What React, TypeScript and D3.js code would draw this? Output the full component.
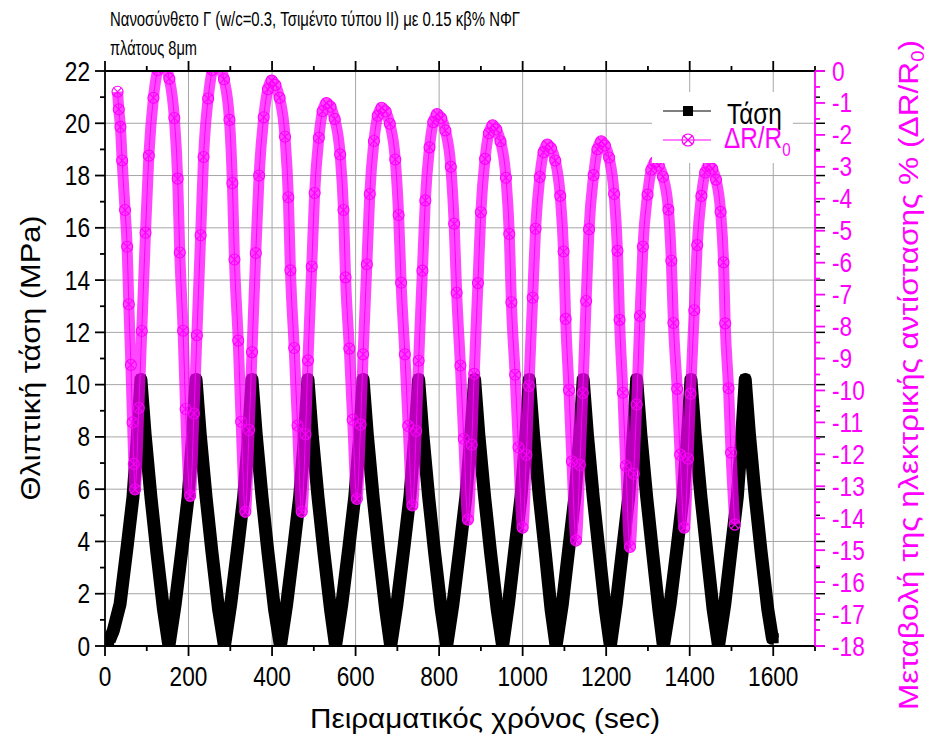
import React from "react";
import * as d3 from "d3";

// ---------- data ----------
const timeTicks = [0, 200, 400, 600, 800, 1000, 1200, 1400, 1600];
const timeMinorTicks = [100, 300, 500, 700, 900, 1100, 1300, 1500, 1700];
const stressTicks = [0, 2, 4, 6, 8, 10, 12, 14, 16, 18, 20, 22];
const stressMinorTicks = [1, 3, 5, 7, 9, 11, 13, 15, 17, 19, 21];
const resistTicks = [0, -1, -2, -3, -4, -5, -6, -7, -8, -9, -10, -11, -12, -13, -14, -15, -16, -17, -18];
const resistMinorTicks = [-0.5, -1.5, -2.5, -3.5, -4.5, -5.5, -6.5, -7.5, -8.5, -9.5, -10.5, -11.5, -12.5, -13.5, -14.5, -15.5, -16.5, -17.5];

const stressTime = [
  10, 20, 36, 53, 67, 77, 86, 96, 110, 124, 140, 153,
  168, 185, 199, 209, 218, 228, 242, 256, 272, 286,
  301, 318, 332, 343, 352, 362, 376, 390, 406, 420,
  435, 452, 466, 477, 486, 496, 510, 524, 540, 552,
  567, 584, 598, 609, 618, 628, 642, 656, 672, 684,
  699, 716, 730, 741, 751, 761, 775, 789, 805, 818,
  833, 850, 864, 875, 885, 895, 909, 923, 939, 952,
  966, 982, 996, 1007, 1016, 1026, 1040, 1054, 1068, 1080,
  1095, 1111, 1125, 1136, 1145, 1155, 1169, 1183, 1198, 1210,
  1224, 1240, 1254, 1264, 1273, 1283, 1297, 1311, 1326, 1337,
  1353, 1370, 1384, 1394, 1403, 1413, 1427, 1441, 1456, 1469,
  1484, 1500, 1514, 1524, 1533, 1543, 1557, 1571, 1587, 1598, 1601,
];
const stressMPa = [
  0.2, 0.6, 1.6, 3.8, 5.7, 7.9, 10.2, 8.1, 5.7, 3.6, 1.4, 0,
  1.6, 3.8, 5.7, 7.9, 10.2, 8.1, 5.7, 3.6, 1.4, 0,
  1.6, 3.8, 5.7, 7.9, 10.2, 8.1, 5.7, 3.6, 1.4, 0,
  1.6, 3.8, 5.7, 7.9, 10.2, 8.1, 5.7, 3.6, 1.4, 0,
  1.6, 3.8, 5.7, 7.9, 10.2, 8.1, 5.7, 3.6, 1.4, 0,
  1.6, 3.8, 5.7, 7.9, 10.2, 8.1, 5.7, 3.6, 1.4, 0,
  1.6, 3.8, 5.7, 7.9, 10.2, 8.1, 5.7, 3.6, 1.4, 0,
  1.6, 3.8, 5.7, 7.9, 10.2, 8.1, 5.7, 3.6, 1.4, 0,
  1.6, 3.8, 5.7, 7.9, 10.2, 8.1, 5.7, 3.6, 1.4, 0,
  1.6, 3.8, 5.7, 7.9, 10.2, 8.1, 5.7, 3.6, 1.4, 0,
  1.6, 3.8, 5.7, 7.9, 10.2, 8.1, 5.7, 3.6, 1.4, 0,
  1.6, 3.8, 5.7, 7.9, 10.2, 8.1, 5.7, 3.6, 1.4, 0.3, 0.3,
];

const resistTime = [
  30, 33, 37, 41, 48, 53, 57, 62, 66, 69, 72,
  81, 88, 97, 105, 116, 126, 135, 144, 154, 166, 174, 179, 187, 193, 204,
  213, 220, 229, 236, 247, 257, 266, 275, 285, 298, 305, 310, 319, 326, 336,
  345, 352, 361, 369, 380, 390, 399, 408, 418, 431, 439, 444, 453, 461, 471,
  480, 486, 495, 502, 512, 521, 530, 540, 550, 563, 571, 576, 585, 593, 603,
  612, 618, 627, 634, 644, 653, 662, 672, 682, 695, 703, 709, 718, 726, 736,
  745, 751, 760, 767, 777, 786, 795, 805, 815, 828, 836, 842, 851, 859, 869,
  878, 884, 893, 900, 910, 919, 928, 937, 947, 960, 968, 973, 982, 990, 1000,
  1009, 1015, 1024, 1031, 1041, 1050, 1059, 1068, 1078, 1090, 1098, 1103, 1111, 1118, 1128,
  1137, 1144, 1152, 1159, 1170, 1179, 1188, 1197, 1207, 1219, 1227, 1232, 1240, 1247, 1257,
  1266, 1273, 1281, 1288, 1299, 1308, 1317, 1326, 1336, 1349, 1356, 1361, 1370, 1377, 1387,
  1396, 1402, 1411, 1418, 1428, 1437, 1446, 1454, 1463, 1474, 1481, 1485, 1493, 1499, 1508,
];
const resistPct = [
  -0.65, -1.2, -1.75, -2.8, -4.35, -5.5, -7.3, -9.2, -11, -12.3, -13.1,
  -10.55, -8.14, -5.06, -2.65, -0.84, 0.03, 0.3, 0.16, -0.24, -1.47, -3.37, -5.68, -8.13, -10.58, -13.3,
  -10.72, -8.27, -5.14, -2.69, -0.86, 0.03, 0.3, 0.16, -0.26, -1.53, -3.51, -5.9, -8.44, -10.98, -13.8,
  -11.24, -8.8, -5.7, -3.27, -1.45, -0.57, -0.3, -0.44, -0.84, -2.06, -3.95, -6.24, -8.67, -11.1, -13.8,
  -11.37, -9.06, -6.12, -3.82, -2.09, -1.26, -1.0, -1.12, -1.5, -2.61, -4.35, -6.46, -8.69, -10.92, -13.4,
  -11.07, -8.87, -6.05, -3.85, -2.19, -1.4, -1.15, -1.27, -1.65, -2.77, -4.51, -6.63, -8.87, -11.11, -13.6,
  -11.27, -9.07, -6.25, -4.05, -2.39, -1.6, -1.35, -1.48, -1.86, -3.0, -4.78, -6.94, -9.22, -11.51, -14.05,
  -11.7, -9.48, -6.64, -4.42, -2.75, -1.95, -1.7, -1.83, -2.2, -3.34, -5.1, -7.24, -9.51, -11.78, -14.3,
  -12.02, -9.86, -7.1, -4.94, -3.32, -2.54, -2.3, -2.42, -2.8, -3.91, -5.65, -7.76, -9.99, -12.22, -14.7,
  -12.33, -10.08, -7.2, -4.95, -3.26, -2.45, -2.2, -2.33, -2.71, -3.85, -5.63, -7.79, -10.07, -12.36, -14.9,
  -12.61, -10.44, -7.67, -5.5, -3.87, -3.09, -2.85, -2.96, -3.31, -4.34, -5.94, -7.89, -9.95, -12.01, -14.3,
  -12.14, -10.1, -7.49, -5.45, -3.91, -3.18, -2.95, -3.06, -3.4, -4.41, -5.99, -7.9, -9.93, -11.95, -14.2,
];

const titleLine1 = "Νανοσύνθετο Γ (w/c=0.3, Τσιμέντο τύπου ΙΙ) με 0.15 κβ% ΝΦΓ";
const titleLine2 = "πλάτους 8μm";
const xTitle = "Πειραματικός χρόνος (sec)";
const yLeftTitle = "Θλιπτική τάση (MPa)";
const yRightTitle = "Μεταβολή της ηλεκτρικής αντίστασης % (ΔR/R";
const legendStress = "Τάση";
const legendResist = "ΔR/R";

// ---------- layout ----------
const W = 930;
const H = 739;
const L = 105, R = 815, TOP = 71, BOT = 646;
const MAG = "#ff00ff";
const FONT = "'Liberation Sans', Arial, Helvetica, sans-serif";

const x = d3.scaleLinear().domain([0, 1700]).range([L, R]);
const yL = d3.scaleLinear().domain([0, 22]).range([BOT, TOP]);
const yR = d3.scaleLinear().domain([-18, 0]).range([BOT, TOP]);

const stressPts: [number, number][] = stressTime.map((t, i) => [t, stressMPa[i]]);
const resistPts: [number, number][] = resistTime.map((t, i) => [t, resistPct[i]]);

const stressLine = d3.line<[number, number]>().x((d) => x(d[0])).y((d) => yL(d[1])).curve(d3.curveLinear);
const resistLine = d3.line<[number, number]>().x((d) => x(d[0])).y((d) => yR(d[1])).curve(d3.curveMonotoneX);

const TS = 27; // tick font size
const TSX = 0.84; // horizontal compression

function Lbl(props: { x: number; y: number; anchor?: string; size?: number; sx?: number; fill?: string; rotate?: number; children: React.ReactNode; tl?: number }) {
  const { x: px, y: py, anchor = "start", size = TS, sx = TSX, fill = "#000", rotate = 0, children, tl } = props;
  return (
    <text
      transform={`translate(${px},${py}) rotate(${rotate}) scale(${sx},1)`}
      textAnchor={anchor}
      fontSize={size}
      fill={fill}
      fontFamily={FONT}
      {...(tl ? { textLength: tl, lengthAdjust: "spacingAndGlyphs" } : {})}
    >
      {children}
    </text>
  );
}

function CircleX({ cx, cy, r = 5.5, w = 1.1 }: { cx: number; cy: number; r?: number; w?: number }) {
  const k = r * 0.7071;
  return (
    <g stroke={MAG} strokeWidth={w} fill="none">
      <circle cx={cx} cy={cy} r={r} />
      <line x1={cx - k} y1={cy - k} x2={cx + k} y2={cy + k} />
      <line x1={cx - k} y1={cy + k} x2={cx + k} y2={cy - k} />
    </g>
  );
}

export default function App() {
  return (
    <svg width={W} height={H} style={{ position: "absolute", left: 0, top: 0, background: "#fff" }} fontFamily={FONT}>
      <defs>
        <clipPath id="plotClip">
          <rect x={L} y={TOP} width={R - L} height={BOT - TOP} />
        </clipPath>
      </defs>
      <rect x={0} y={0} width={W} height={H} fill="#fff" />

      {/* grid */}
      <g stroke="#a6a6a6" strokeWidth={1}>
        {timeTicks.filter((t) => t > 0).map((t) => (
          <line key={"gx" + t} x1={x(t)} x2={x(t)} y1={TOP} y2={BOT} />
        ))}
        {stressTicks.filter((v) => v > 0 && v < 22).map((v) => (
          <line key={"gy" + v} x1={L} x2={R} y1={yL(v)} y2={yL(v)} />
        ))}
      </g>

      {/* data */}
      <g clipPath="url(#plotClip)">
        <path d={stressLine(stressPts) || ""} fill="none" stroke="#000" strokeWidth={13} strokeLinejoin="round" />
        {stressPts.map((d, i) => (
          <rect key={"s" + i} x={x(d[0]) - 5} y={yL(d[1]) - 5} width={10} height={10} fill="#000" />
        ))}
        <path d={resistLine(resistPts) || ""} fill="none" stroke={MAG} strokeOpacity={0.72} strokeWidth={11} strokeLinejoin="round" />
        <path d={resistLine(resistPts) || ""} fill="none" stroke={MAG} strokeWidth={1} />
        {resistPts.map((d, i) => (
          <CircleX key={"r" + i} cx={x(d[0])} cy={yR(d[1])} />
        ))}
      </g>

      {/* mirrored left ticks on right side (black) */}
      <g stroke="#000" strokeWidth={1.5}>
        {stressTicks.map((v) => (
          <line key={"rt" + v} x1={R} x2={R + 10} y1={yL(v)} y2={yL(v)} />
        ))}
        {stressMinorTicks.map((v) => (
          <line key={"rtm" + v} x1={R} x2={R + 5} y1={yL(v)} y2={yL(v)} />
        ))}
      </g>

      {/* axes */}
      <g stroke="#000" strokeWidth={1.8}>
        <line x1={L} x2={R} y1={BOT} y2={BOT} />
        <line x1={L} x2={R} y1={TOP} y2={TOP} />
        <line x1={L} x2={L} y1={TOP} y2={BOT} />
        {timeTicks.map((t) => (
          <g key={"xt" + t}>
            <line x1={x(t)} x2={x(t)} y1={BOT} y2={BOT + 10} />
            <line x1={x(t)} x2={x(t)} y1={TOP} y2={TOP - 10} />
          </g>
        ))}
        {timeMinorTicks.map((t) => (
          <g key={"xtm" + t}>
            <line x1={x(t)} x2={x(t)} y1={BOT} y2={BOT + 5} />
            <line x1={x(t)} x2={x(t)} y1={TOP} y2={TOP - 5} />
          </g>
        ))}
        {stressTicks.map((v) => (
          <line key={"yt" + v} x1={L - 10} x2={L} y1={yL(v)} y2={yL(v)} />
        ))}
        {stressMinorTicks.map((v) => (
          <line key={"ytm" + v} x1={L - 5} x2={L} y1={yL(v)} y2={yL(v)} />
        ))}
      </g>
      <g stroke={MAG} strokeWidth={1.8}>
        <line x1={R} x2={R} y1={TOP} y2={BOT} />
        {resistTicks.map((v) => (
          <line key={"rr" + v} x1={R} x2={R + 10} y1={yR(v)} y2={yR(v)} />
        ))}
        {resistMinorTicks.map((v) => (
          <line key={"rrm" + v} x1={R} x2={R + 5} y1={yR(v)} y2={yR(v)} />
        ))}
      </g>

      {/* tick labels */}
      {timeTicks.map((t) => (
        <Lbl key={"xl" + t} x={x(t)} y={BOT + 40} anchor="middle">{String(t)}</Lbl>
      ))}
      {stressTicks.map((v) => (
        <Lbl key={"yl" + v} x={L - 15} y={yL(v) + 9.5} anchor="end">{String(v)}</Lbl>
      ))}
      {resistTicks.map((v) => (
        <Lbl key={"rl" + v} x={R + 17} y={yR(v) + 9.5} anchor="start" fill={MAG}>{v === 0 ? "0" : "-" + Math.abs(v)}</Lbl>
      ))}

      {/* axis titles */}
      <Lbl x={485} y={728} anchor="middle" size={28} tl={350 / TSX}>{xTitle}</Lbl>
      <Lbl x={40} y={358} anchor="middle" size={28} rotate={-90} tl={285 / TSX}>{yLeftTitle}</Lbl>
      <text
        transform={`translate(918,375) rotate(-90) scale(${TSX},1)`}
        textAnchor="middle"
        fontSize={28}
        fill={MAG}
        fontFamily={FONT}
        textLength={670 / TSX}
        lengthAdjust="spacingAndGlyphs"
      >
        {yRightTitle}
        <tspan fontSize={18} dy={6}>0</tspan>
        <tspan dy={-6}>)</tspan>
      </text>

      {/* title */}
      <Lbl x={110} y={26} size={21} tl={410 / TSX}>{titleLine1}</Lbl>
      <Lbl x={110} y={55} size={21} tl={87 / TSX}>{titleLine2}</Lbl>

      {/* legend */}
      <rect x={652} y={92} width={141} height={71} fill="#fff" />
      <line x1={663} x2={711} y1={111} y2={111} stroke="#000" strokeWidth={1.2} />
      <rect x={683} y={106} width={10} height={10} fill="#000" />
      <Lbl x={727} y={124} size={29}>{legendStress}</Lbl>
      <line x1={663} x2={711} y1={140} y2={140} stroke={MAG} strokeWidth={1.2} />
      <CircleX cx={688} cy={140} r={6} w={1.2} />
      <text transform={`translate(724,148) scale(${TSX},1)`} fontSize={29} fill={MAG} fontFamily={FONT}>
        {legendResist}
        <tspan fontSize={18} dy={8}>0</tspan>
      </text>
    </svg>
  );
}
